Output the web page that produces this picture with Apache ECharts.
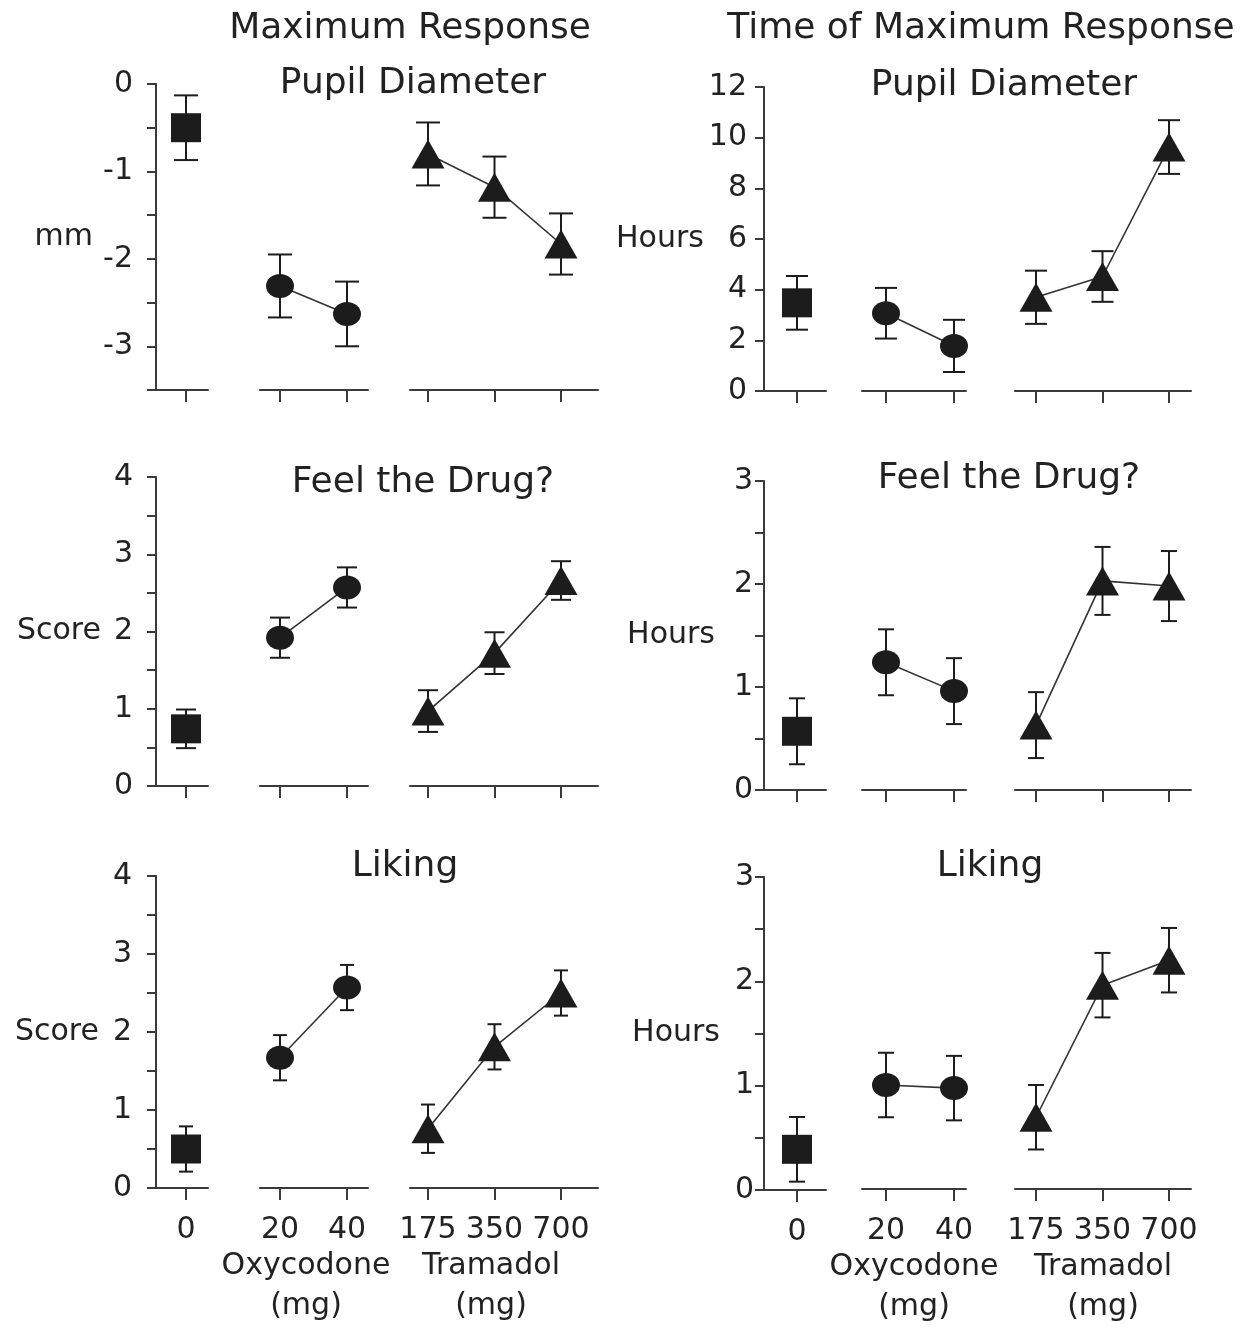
<!DOCTYPE html>
<html>
<head>
<meta charset="utf-8">
<script src="https://cdn.jsdelivr.net/npm/echarts@6/dist/echarts.min.js"></script>
<style>
  html, body { margin: 0; padding: 0; background: #fff; }
  #chart { width: 1246px; height: 1328px; }
</style>
</head>
<body>
<div id="chart"></div>
<script>
// ---------------- DATA ----------------
const doseLabels = ['0', '20', '40', '175', '350', '700'];
const groupStart = [0, 1, 3];
const groupSize = [1, 2, 3];
const groupNames = ['', 'Oxycodone\n(mg)', 'Tramadol\n(mg)'];

// Maximum response: pupil diameter (mm)
const pupilMaxMean = [-0.50, -2.31, -2.63, -0.80, -1.18, -1.83];
const pupilMaxErr  = [0.37, 0.36, 0.37, 0.36, 0.35, 0.35];
// Time of maximum response: pupil diameter (hours)
const pupilTimeMean = [3.48, 3.07, 1.78, 3.70, 4.52, 9.63];
const pupilTimeErr  = [1.06, 1.00, 1.03, 1.05, 1.00, 1.06];
// Maximum response: feel the drug (score)
const feelMaxMean = [0.74, 1.92, 2.57, 0.97, 1.72, 2.66];
const feelMaxErr  = [0.25, 0.26, 0.26, 0.27, 0.27, 0.25];
// Time of maximum response: feel the drug (hours)
const feelTimeMean = [0.57, 1.24, 0.96, 0.63, 2.03, 1.98];
const feelTimeErr  = [0.32, 0.32, 0.32, 0.32, 0.33, 0.34];
// Maximum response: liking (score)
const likeMaxMean = [0.50, 1.67, 2.57, 0.76, 1.81, 2.50];
const likeMaxErr  = [0.29, 0.29, 0.29, 0.31, 0.29, 0.29];
// Time of maximum response: liking (hours)
const likeTimeMean = [0.39, 1.00, 0.97, 0.69, 1.96, 2.20];
const likeTimeErr  = [0.31, 0.31, 0.31, 0.31, 0.31, 0.31];

// ---------------- LAYOUT / STYLE ----------------
const FONT = 'DejaVu Sans';
const INK = '#1c1c1c';
const AXIS = '#3a3a3a';
const groupSymbols = ['rect', 'circle', 'triangle'];
const groupSymbolSize = [[30, 29], [28, 24], [33, 29]];

const colLayout = [
  { cats: [186, 280, 347, 428, 494, 561], segs: [[156, 208], [260, 368], [410, 598]], namePad: [16, 26] },
  { cats: [797, 886, 954, 1036, 1102, 1169], segs: [[764, 826], [862, 966], [1015, 1191]], namePad: [0, 0] }
];

const panels = [
  { mean: pupilMaxMean, err: pupilMaxErr, min: -3.5, max: 0, interval: 0.5, label: 1, yName: 'mm', nameGap: 63, labelMargin: 23, col: 0, top: 84, bottom: 390, showX: false, cap: 12 },
  { mean: pupilTimeMean, err: pupilTimeErr, min: 0, max: 12, interval: 2, label: 2, yName: 'Hours', nameGap: 58, labelMargin: 17, col: 1, top: 87, bottom: 391, showX: false, cap: 11 },
  { mean: feelMaxMean, err: feelMaxErr, min: 0, max: 4, interval: 0.5, label: 1, yName: 'Score', nameGap: 55, labelMargin: 23, col: 0, top: 477, bottom: 786, showX: false, cap: 10 },
  { mean: feelTimeMean, err: feelTimeErr, min: 0, max: 3, interval: 0.5, label: 1, yName: 'Hours', nameGap: 49, labelMargin: 11, col: 1, top: 481, bottom: 790, showX: false, cap: 8 },
  { mean: likeMaxMean, err: likeMaxErr, min: 0, max: 4, interval: 0.5, label: 1, yName: 'Score', nameGap: 57, labelMargin: 24, col: 0, top: 876, bottom: 1188, showX: true, cap: 7 },
  { mean: likeTimeMean, err: likeTimeErr, min: 0, max: 3, interval: 0.5, label: 1, yName: 'Hours', nameGap: 44, labelMargin: 10, col: 1, top: 877, bottom: 1190, showX: true, cap: 8 }
];

const titles = [
  { text: 'Maximum Response', x: 405, y: 28 },
  { text: 'Time of Maximum Response', x: 976, y: 28 },
  { text: 'Pupil Diameter', x: 408, y: 83 },
  { text: 'Pupil Diameter', x: 999, y: 85 },
  { text: 'Feel the Drug?', x: 418, y: 482 },
  { text: 'Feel the Drug?', x: 1004, y: 478 },
  { text: 'Liking', x: 400, y: 866 },
  { text: 'Liking', x: 985, y: 866 }
];

function range(n) { return Array.from({ length: n }, (_, i) => i); }

function makeErrRenderer(capHalf) {
  return function (params, api) {
    const x = api.value(0);
    const p1 = api.coord([x, api.value(1)]);
    const p2 = api.coord([x, api.value(2)]);
    const style = { stroke: INK, lineWidth: 2, fill: null };
    return {
      type: 'group',
      children: [
        { type: 'line', shape: { x1: p1[0], y1: p1[1], x2: p2[0], y2: p2[1] }, style: style },
        { type: 'line', shape: { x1: p1[0] - capHalf, y1: p1[1], x2: p1[0] + capHalf, y2: p1[1] }, style: style },
        { type: 'line', shape: { x1: p2[0] - capHalf, y1: p2[1], x2: p2[0] + capHalf, y2: p2[1] }, style: style }
      ]
    };
  };
}

const grids = [], xAxes = [], yAxes = [], series = [];

panels.forEach(function (p) {
  const L = colLayout[p.col];
  for (let g = 0; g < 3; g++) {
    const idx = grids.length;
    const first = groupStart[g], n = groupSize[g];
    const c0 = L.cats[first], cl = L.cats[first + n - 1];
    const u = n > 1 ? (cl - c0) / (n - 1) : 67;
    const s0 = L.segs[g][0], s1 = L.segs[g][1];
    grids.push({ left: s0, width: s1 - s0, top: p.top, height: p.bottom - p.top, containLabel: false });
    const pad = g > 0 ? L.namePad[g - 1] : 0;
    xAxes.push({
      gridIndex: idx, type: 'value', min: (s0 - c0) / u, max: (s1 - c0) / u,
      axisLine: { show: true, onZero: false, lineStyle: { color: AXIS, width: 2 } },
      axisTick: { show: true, customValues: range(n), length: 12, lineStyle: { color: AXIS, width: 2 } },
      axisLabel: {
        show: p.showX, customValues: range(n), margin: 27,
        formatter: function (v) { return doseLabels[first + Math.round(v)]; },
        color: '#222', fontFamily: FONT, fontSize: 30
      },
      splitLine: { show: false },
      name: p.showX ? groupNames[g] : '',
      nameLocation: 'middle', nameGap: 58,
      nameTextStyle: { color: '#222', fontFamily: FONT, fontSize: 30, lineHeight: 40, padding: [0, pad, 0, 0] }
    });
    yAxes.push({
      gridIndex: idx, type: 'value', min: p.min, max: p.max, interval: p.interval,
      show: g === 0,
      axisLine: { show: true, onZero: false, lineStyle: { color: AXIS, width: 2 } },
      axisTick: { show: true, length: 9, lineStyle: { color: AXIS, width: 2 } },
      axisLabel: {
        margin: p.labelMargin, color: '#222', fontFamily: FONT, fontSize: 30,
        formatter: (function (step) {
          return function (v) { return Math.abs(v / step - Math.round(v / step)) < 1e-6 ? String(Math.round(v)) : ''; };
        })(p.label)
      },
      splitLine: { show: false },
      name: g === 0 ? p.yName : '',
      nameLocation: 'middle', nameRotate: 0, nameGap: p.nameGap,
      nameTextStyle: { color: '#222', fontFamily: FONT, fontSize: 30, align: 'right', verticalAlign: 'middle' }
    });
    series.push({
      type: 'custom', xAxisIndex: idx, yAxisIndex: idx, z: 2, silent: true,
      renderItem: makeErrRenderer(p.cap),
      data: range(n).map(function (k) { return [k, p.mean[first + k] - p.err[first + k], p.mean[first + k] + p.err[first + k]]; })
    });
    series.push({
      type: 'line', xAxisIndex: idx, yAxisIndex: idx, z: 3, silent: true,
      symbol: groupSymbols[g], symbolSize: groupSymbolSize[g], showSymbol: true,
      itemStyle: { color: INK, opacity: 1 },
      lineStyle: { color: '#333', width: 1.6 },
      animation: false,
      data: range(n).map(function (k) { return [k, p.mean[first + k]]; })
    });
  }
});

const option = {
  backgroundColor: '#ffffff',
  animation: false,
  title: titles.map(function (t) {
    return {
      text: t.text, left: t.x, top: t.y - 22, textAlign: 'center',
      textStyle: { color: '#222', fontFamily: FONT, fontSize: 36, fontWeight: 'normal' }
    };
  }),
  grid: grids,
  xAxis: xAxes,
  yAxis: yAxes,
  series: series
};

const chart = echarts.init(document.getElementById('chart'), null, { renderer: 'canvas' });
chart.setOption(option);
</script>
</body>
</html>
